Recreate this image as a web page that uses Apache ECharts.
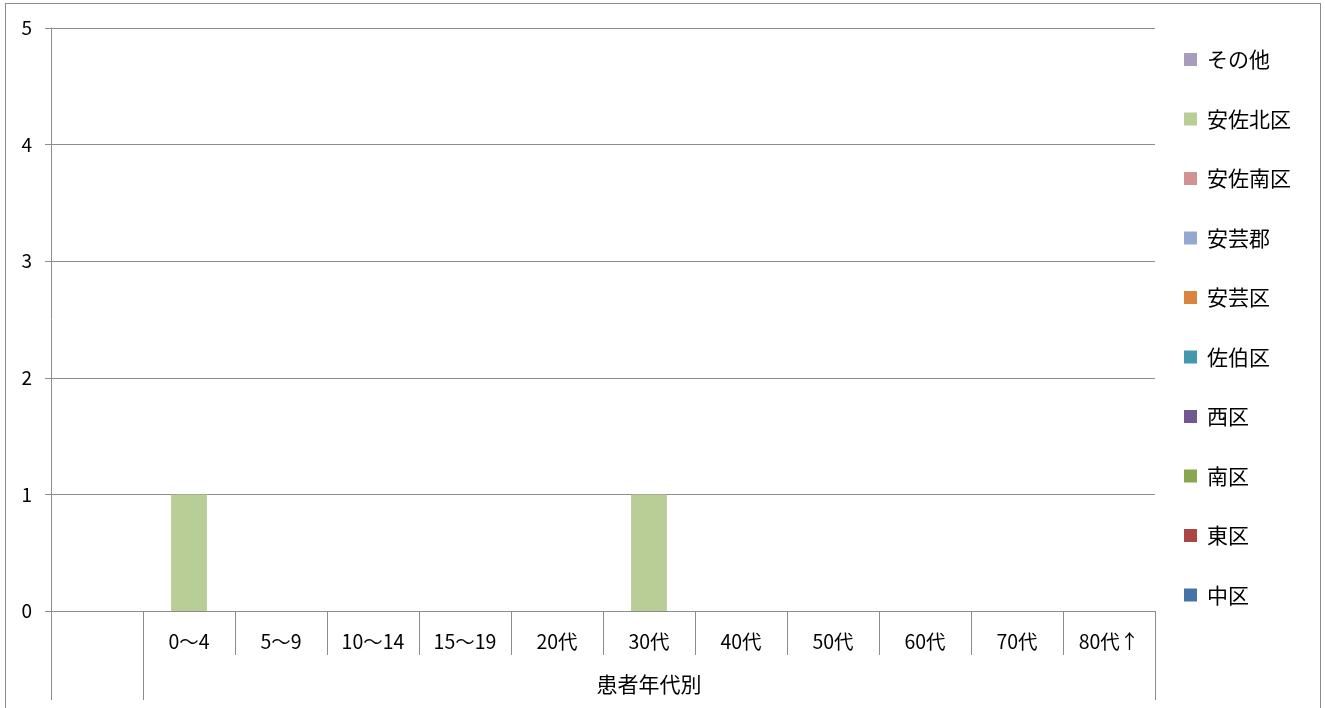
<!DOCTYPE html>
<html>
<head>
<meta charset="utf-8">
<script src="https://cdn.jsdelivr.net/npm/echarts@6/dist/echarts.min.js"></script>
<style>
html,body{margin:0;padding:0;background:#fff;}
#chart{position:absolute;left:0;top:0;width:1325px;height:708px;}
#frame{position:absolute;left:5px;top:3px;width:1316px;height:720px;border:1px solid #8c8c8c;box-sizing:border-box;pointer-events:none;}
</style>
</head>
<body>
<div id="chart"></div>
<div id="frame"></div>
<script>
const categories = ['', '0〜4', '5〜9', '10〜14', '15〜19', '20代', '30代', '40代', '50代', '60代', '70代', '80代↑'];
const groupLabel = '患者年代別';
const seriesNames = ['中区', '東区', '南区', '西区', '佐伯区', '安芸区', '安芸郡', '安佐南区', '安佐北区', 'その他'];
const seriesColors = ['#4572A7', '#AA4643', '#89A54E', '#71588F', '#4198AF', '#DB843D', '#93A9CF', '#D19392', '#B9CD96', '#A99BBD'];
const v中区 = [null, 0, 0, 0, 0, 0, 0, 0, 0, 0, 0, 0];
const v東区 = [null, 0, 0, 0, 0, 0, 0, 0, 0, 0, 0, 0];
const v南区 = [null, 0, 0, 0, 0, 0, 0, 0, 0, 0, 0, 0];
const v西区 = [null, 0, 0, 0, 0, 0, 0, 0, 0, 0, 0, 0];
const v佐伯区 = [null, 0, 0, 0, 0, 0, 0, 0, 0, 0, 0, 0];
const v安芸区 = [null, 0, 0, 0, 0, 0, 0, 0, 0, 0, 0, 0];
const v安芸郡 = [null, 0, 0, 0, 0, 0, 0, 0, 0, 0, 0, 0];
const v安佐南区 = [null, 0, 0, 0, 0, 0, 0, 0, 0, 0, 0, 0];
const v安佐北区 = [null, 1, 0, 0, 0, 0, 1, 0, 0, 0, 0, 0];
const vその他 = [null, 0, 0, 0, 0, 0, 0, 0, 0, 0, 0, 0];
const seriesValues = [v中区, v東区, v南区, v西区, v佐伯区, v安芸区, v安芸郡, v安佐南区, v安佐北区, vその他];
const yTicks = [0, 1, 2, 3, 4, 5];

const FONT = '"Noto Sans CJK JP", "Noto Sans", sans-serif';
const LINE = '#8c8c8c';

const chart = echarts.init(document.getElementById('chart'), null, {renderer: 'canvas'});
chart.setOption({
  animation: false,
  backgroundColor: '#fff',
  textStyle: {fontFamily: FONT, color: '#000'},
  grid: {left: 51, right: 170, top: 28, bottom: 97, containLabel: false},
  legend: {
    orient: 'vertical',
    left: 1179,
    top: 44,
    itemWidth: 13,
    itemHeight: 13,
    itemGap: 38.5,
    icon: 'rect',
    data: seriesNames.slice().reverse(),
    textStyle: {fontFamily: FONT, fontSize: 21, color: '#000', padding: [0, 0, 0, 5]}
  },
  xAxis: [
    {
      type: 'category',
      data: categories,
      boundaryGap: true,
      axisLine: {show: true, lineStyle: {color: LINE, width: 1}},
      axisTick: {show: true, interval: 0, length: 44, lineStyle: {color: LINE}},
      axisLabel: {interval: 0, margin: 21, fontSize: 19.5, fontFamily: FONT, color: '#000'},
      splitLine: {show: false}
    },
    {
      type: 'value',
      min: 0,
      max: categories.length,
      position: 'bottom',
      axisLine: {show: false},
      axisTick: {show: true, customValues: [0, 1, categories.length], length: 89, lineStyle: {color: LINE}},
      axisLabel: {show: true, customValues: [(1 + categories.length) / 2], formatter: function () { return groupLabel; }, margin: 63, fontSize: 21, fontFamily: FONT, color: '#000'},
      splitLine: {show: false}
    }
  ],
  yAxis: {
    type: 'value',
    min: yTicks[0],
    max: yTicks[yTicks.length - 1],
    interval: 1,
    axisLine: {show: true, lineStyle: {color: LINE, width: 1}},
    axisTick: {show: true, length: 6, lineStyle: {color: LINE}},
    axisLabel: {margin: 19, fontSize: 19, fontFamily: FONT, color: '#000'},
    splitLine: {show: true, lineStyle: {color: LINE, width: 1}}
  },
  series: seriesNames.map(function (name, i) {
    return {
      name: name,
      type: 'bar',
      stack: 'total',
      xAxisIndex: 0,
      barWidth: '39%',
      itemStyle: {color: seriesColors[i]},
      data: seriesValues[i]
    };
  })
});
</script>
</body>
</html>
